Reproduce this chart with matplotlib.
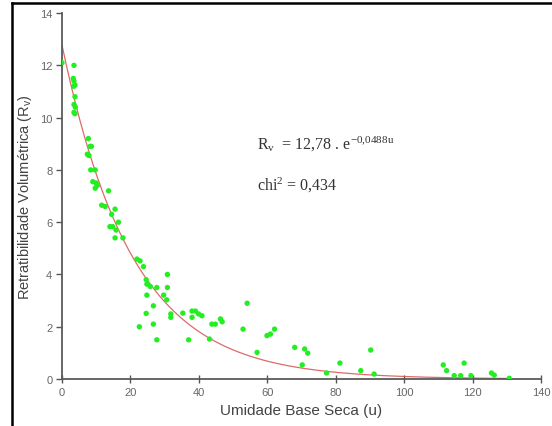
import numpy as np
import matplotlib
matplotlib.use("Agg")
import matplotlib.pyplot as plt
from matplotlib.lines import Line2D

# moisture content (dry basis) and volumetric shrinkage
umidade = [
    0.0, 3.5, 3.3, 3.5, 3.8, 3.4, 3.8, 3.5, 3.9, 3.5, 3.8,
    7.7, 8.2, 8.6, 7.4, 7.9, 8.4, 9.7, 9.0, 10.0, 10.3, 9.7, 13.6,
    11.6, 12.6, 15.5, 14.5, 14.0, 14.8, 16.5, 15.8, 15.5, 17.8,
    21.9, 22.8, 23.8, 24.6, 24.8, 25.8, 24.8, 27.7, 30.8, 30.8, 29.7,
    30.6, 26.7, 24.6, 31.8, 31.8, 22.6, 26.7, 27.7,
    35.3, 38.0, 39.0, 38.0, 39.9, 37.0, 40.9, 43.8, 44.8, 46.3, 46.8, 43.1,
    54.1, 52.9, 57.0, 59.9, 60.9, 62.1, 68.0, 70.9, 71.8, 70.2,
    77.3, 81.2, 87.3, 90.2, 91.2,
    111.4, 112.4, 114.6, 116.5, 117.5, 119.5, 125.5, 126.3, 130.7,
]
retratibilidade = [
    12.1, 12.0, 11.5, 11.4, 11.25, 11.2, 10.8, 10.5, 10.4, 10.2, 10.15,
    9.2, 8.9, 8.9, 8.6, 8.55, 8.0, 8.0, 7.55, 7.5, 7.4, 7.3, 7.2,
    6.65, 6.6, 6.5, 6.3, 5.83, 5.83, 6.0, 5.7, 5.4, 5.4,
    4.59, 4.52, 4.3, 3.8, 3.63, 3.54, 3.21, 3.5, 4.0, 3.5, 3.21,
    3.03, 2.8, 2.51, 2.49, 2.36, 2.0, 2.1, 1.5,
    2.52, 2.6, 2.6, 2.36, 2.49, 1.5, 2.42, 2.1, 2.1, 2.3, 2.19, 1.53,
    2.9, 1.91, 1.02, 1.66, 1.72, 1.91, 1.21, 1.15, 0.99, 0.54,
    0.23, 0.61, 0.32, 1.11, 0.19,
    0.54, 0.32, 0.13, 0.13, 0.61, 0.13, 0.23, 0.15, 0.03,
]

# exponential fit parameters
fit_a = 12.78
fit_k = 0.0488
fit_u_max = 130

x_ticks = [0, 20, 40, 60, 80, 100, 120, 140]
y_ticks = [0, 2, 4, 6, 8, 10, 12, 14]

plt.rcParams["font.family"] = ["Liberation Sans", "DejaVu Sans"]
plt.rcParams["mathtext.default"] = "regular"

fig = plt.figure(figsize=(5.52, 4.27), dpi=100)
ax = fig.add_axes([0.1123, 0.110, 0.868, 0.857])

u_fit = np.linspace(0, fit_u_max, 300)
ax.plot(u_fit, fit_a * np.exp(-fit_k * u_fit), color="#d9504f", linewidth=0.9,
        alpha=0.85, zorder=2)
ax.scatter(umidade, retratibilidade, s=15, color="#22ee22", edgecolors="none",
           zorder=3)

ax.set_xlim(0, 140)
ax.set_ylim(0, 14)
ax.set_xticks(x_ticks)
ax.set_yticks(y_ticks)
ax.tick_params(axis="x", direction="inout", length=6, width=1.0,
               colors="#555555", labelsize=8, labelcolor="#666666", pad=3)
ax.tick_params(axis="y", direction="out", length=4, width=1.0,
               colors="#555555", labelsize=8, labelcolor="#666666", pad=3)

for side in ["top", "right"]:
    ax.spines[side].set_visible(False)
for side in ["left", "bottom"]:
    ax.spines[side].set_color("#5a5a5a")
    ax.spines[side].set_linewidth(1.3)

ax.set_xlabel("Umidade Base Seca (u)", fontsize=11, color="#444444", labelpad=4)
ax.set_ylabel("Retratibilidade Volumétrica (R$_v$)", fontsize=10.5,
              color="#444444", labelpad=4)

serif = ["Liberation Serif", "DejaVu Serif"]
ax.text(57.0, 9.0, "R$_v$  = 12,78 . e$^{-0{,}0488u}$", fontsize=11.5,
        family=serif, color="#333333", va="center")
ax.text(57.0, 7.45, "chi$^2$ = 0,434", fontsize=11.5,
        family=serif, color="#333333", va="center")

# outer frame (left and top edges visible)
fig.add_artist(Line2D([0.022, 0.022], [0.0, 0.9906], transform=fig.transFigure,
                      color="black", linewidth=1.8))
fig.add_artist(Line2D([0.022, 1.0], [0.9906, 0.9906], transform=fig.transFigure,
                      color="black", linewidth=1.8))

fig.savefig("out.png", dpi=100)
